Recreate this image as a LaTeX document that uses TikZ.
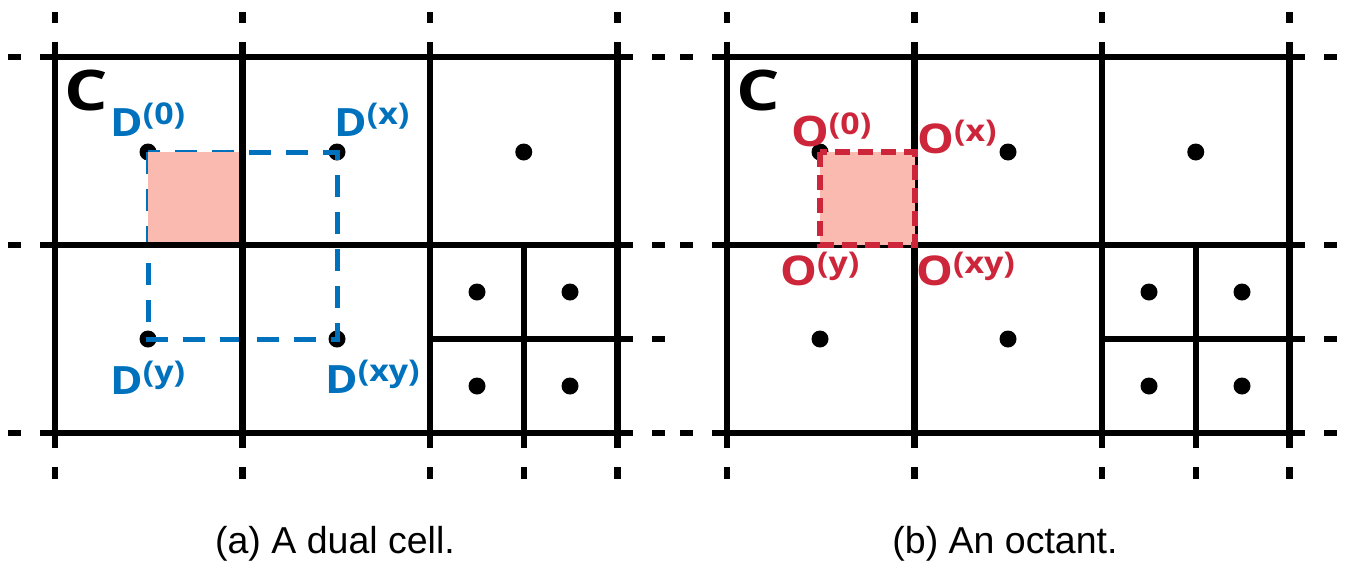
\documentclass[tikz,border=0pt]{standalone}
\usepackage{fontspec}
\usepackage{graphicx}
\setmainfont{Liberation Sans}
\newfontfamily\labfont{Open Sans}
\definecolor{dblue}{RGB}{0,114,189}
\definecolor{ored}{RGB}{205,38,58}
\definecolor{pinkfill}{RGB}{251,186,176}
\newcommand{\suplab}[3]{\scalebox{1.13}[1]{\labfont\bfseries\fontsize{#3}{#3}\selectfont #1\raisebox{12pt}{\fontsize{30}{30}\selectfont(#2)}}}
\newcommand{\panelgrid}{%
  \foreach \x in {55,242.5,430,617.5}{
    \draw[gridline] (\x,42) -- (\x,448);
    \draw[gridline] (\x,12) -- (\x,23);
    \draw[gridline] (\x,467) -- (\x,479);
  }
  \foreach \y in {57,245,433}{
    \draw[gridline] (40,\y) -- (632.5,\y);
    \draw[gridline] (8,\y) -- (21,\y);
    \draw[gridline] (652,\y) -- (665,\y);
  }
  \draw[gridline] (523.75,245) -- (523.75,448);
  \draw[gridline] (523.75,467) -- (523.75,479);
  \draw[gridline] (430,339) -- (632.5,339);
  \draw[gridline] (652,339) -- (665,339);
}
\begin{document}
\begin{tikzpicture}[x=1pt,y=-1pt,
  gridline/.style={line width=6.5pt, line cap=butt},
  dot/.style={circle, fill=black, minimum size=17pt, inner sep=0pt},
  lab/.style={inner sep=0pt, anchor=base west},
  bigc/.style={inner sep=0pt, anchor=base west},
  capt/.style={inner sep=0pt, anchor=base, font=\fontsize{37.5}{37.5}\selectfont},
  bluedash/.style={draw=dblue, line width=5pt, dash pattern=on 22pt off 15pt},
  reddash/.style={draw=ored, line width=6pt, dash pattern=on 15pt off 8pt}]
\useasboundingbox (0,0) rectangle (1347,568);

% ---------- panel (a) ----------
\begin{scope}
  \node[dot] (a0) at (148,152) {};
  \node[dot] (ax) at (337,152) {};
  \node[dot] (ay) at (148,339) {};
  \node[dot] (axy) at (337,339) {};
  \node[dot] (a1) at (523.75,152) {};
  \node[dot] (a2) at (477,292) {};
  \node[dot] (a3) at (570,292) {};
  \node[dot] (a4) at (477,386) {};
  \node[dot] (a5) at (570,386) {};
  \coordinate (apc) at (242.5,245);
  \draw[bluedash] (a0.center) rectangle (axy.center);
  \fill[pinkfill] (a0.center) rectangle (apc);
  \panelgrid
  \node[bigc] (ac) at (64,110) {\scalebox{1.22}[1]{\labfont\bfseries\fontsize{56}{56}\selectfont C}};
  \node[lab, text=dblue] (la0) at (110,136) {\suplab{D}{0}{39}};
  \node[lab, text=dblue] (lax) at (334,136) {\suplab{D}{x}{39}};
  \node[lab, text=dblue] (lay) at (110,394) {\suplab{D}{y}{39}};
  \node[lab, text=dblue] (laxy) at (325,393) {\suplab{D}{xy}{39}};
  \node[capt] (capa) at (335,553) {(a) A dual cell.};
\end{scope}

% ---------- panel (b) ----------
\begin{scope}[shift={(672,0)}]
  \node[dot] (b0) at (148,152) {};
  \node[dot] (b1) at (336,152) {};
  \node[dot] (b2) at (523.75,152) {};
  \node[dot] (b3) at (148,339) {};
  \node[dot] (b4) at (336,339) {};
  \node[dot] (b5) at (477,292) {};
  \node[dot] (b6) at (570,292) {};
  \node[dot] (b7) at (477,386) {};
  \node[dot] (b8) at (570,386) {};
  \coordinate (bpc) at (242.5,245);
  \panelgrid
  \draw[reddash, fill=pinkfill] (b0.center) rectangle (bpc);
  \node[bigc] (bc) at (64,110) {\scalebox{1.22}[1]{\labfont\bfseries\fontsize{56}{56}\selectfont C}};
  \node[lab, text=ored] (lb0) at (119,146) {\suplab{O}{0}{42}};
  \node[lab, text=ored] (lbx) at (245,153) {\suplab{O}{x}{41}};
  \node[lab, text=ored] (lby) at (108,285) {\suplab{O}{y}{41}};
  \node[lab, text=ored] (lbxy) at (244,285) {\suplab{O}{xy}{41}};
  \node[capt] (capb) at (333,553) {(b) An octant.};
\end{scope}
\end{tikzpicture}
\end{document}
